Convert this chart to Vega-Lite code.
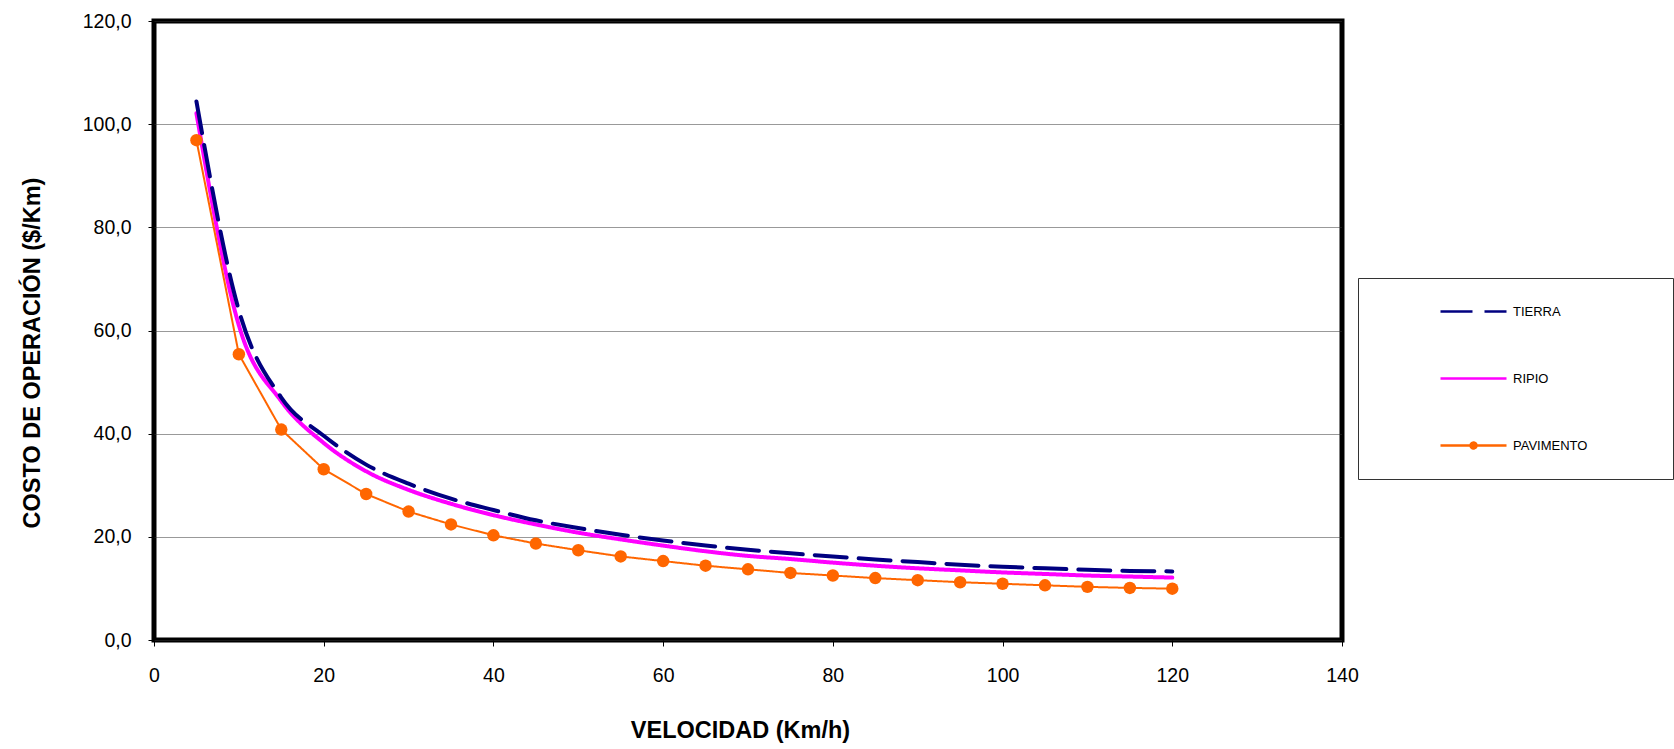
{
  "$schema": "https://vega.github.io/schema/vega-lite/v6.json",
  "width": 1188,
  "height": 619,
  "autosize": {"type": "none"},
  "padding": {"left": 154, "top": 21, "right": 332, "bottom": 109},
  "background": "white",
  "config": {
    "font": "Liberation Sans",
    "view": {"stroke": "black", "strokeWidth": 5},
    "axis": {"labelFont": "Liberation Sans", "titleFont": "Liberation Sans", "labelColor": "black", "titleColor": "black"}
  },
  "data": {
    "values": [
      {"v": 5, "serie": "RIPIO", "costo": 102.1},
      {"v": 10, "serie": "RIPIO", "costo": 61.0},
      {"v": 15, "serie": "RIPIO", "costo": 46.3},
      {"v": 20, "serie": "RIPIO", "costo": 38.2},
      {"v": 25, "serie": "RIPIO", "costo": 32.7},
      {"v": 30, "serie": "RIPIO", "costo": 29.1},
      {"v": 35, "serie": "RIPIO", "costo": 26.4},
      {"v": 40, "serie": "RIPIO", "costo": 24.2},
      {"v": 45, "serie": "RIPIO", "costo": 22.4},
      {"v": 50, "serie": "RIPIO", "costo": 20.8},
      {"v": 55, "serie": "RIPIO", "costo": 19.5},
      {"v": 60, "serie": "RIPIO", "costo": 18.3},
      {"v": 65, "serie": "RIPIO", "costo": 17.2},
      {"v": 70, "serie": "RIPIO", "costo": 16.3},
      {"v": 75, "serie": "RIPIO", "costo": 15.7},
      {"v": 80, "serie": "RIPIO", "costo": 15.0},
      {"v": 85, "serie": "RIPIO", "costo": 14.4},
      {"v": 90, "serie": "RIPIO", "costo": 13.9},
      {"v": 95, "serie": "RIPIO", "costo": 13.5},
      {"v": 100, "serie": "RIPIO", "costo": 13.1},
      {"v": 105, "serie": "RIPIO", "costo": 12.8},
      {"v": 110, "serie": "RIPIO", "costo": 12.5},
      {"v": 115, "serie": "RIPIO", "costo": 12.3},
      {"v": 120, "serie": "RIPIO", "costo": 12.1},
      {"v": 5, "serie": "TIERRA", "costo": 104.4},
      {"v": 10, "serie": "TIERRA", "costo": 63.9},
      {"v": 15, "serie": "TIERRA", "costo": 47.0},
      {"v": 20, "serie": "TIERRA", "costo": 39.6},
      {"v": 25, "serie": "TIERRA", "costo": 34.0},
      {"v": 30, "serie": "TIERRA", "costo": 30.3},
      {"v": 35, "serie": "TIERRA", "costo": 27.4},
      {"v": 40, "serie": "TIERRA", "costo": 25.2},
      {"v": 45, "serie": "TIERRA", "costo": 23.2},
      {"v": 50, "serie": "TIERRA", "costo": 21.7},
      {"v": 55, "serie": "TIERRA", "costo": 20.4},
      {"v": 60, "serie": "TIERRA", "costo": 19.3},
      {"v": 65, "serie": "TIERRA", "costo": 18.3},
      {"v": 70, "serie": "TIERRA", "costo": 17.5},
      {"v": 75, "serie": "TIERRA", "costo": 16.8},
      {"v": 80, "serie": "TIERRA", "costo": 16.2},
      {"v": 85, "serie": "TIERRA", "costo": 15.6},
      {"v": 90, "serie": "TIERRA", "costo": 15.1},
      {"v": 95, "serie": "TIERRA", "costo": 14.6},
      {"v": 100, "serie": "TIERRA", "costo": 14.2},
      {"v": 105, "serie": "TIERRA", "costo": 13.9},
      {"v": 110, "serie": "TIERRA", "costo": 13.6},
      {"v": 115, "serie": "TIERRA", "costo": 13.4},
      {"v": 120, "serie": "TIERRA", "costo": 13.3},
      {"v": 5, "serie": "PAVIMENTO", "costo": 96.9},
      {"v": 10, "serie": "PAVIMENTO", "costo": 55.4},
      {"v": 15, "serie": "PAVIMENTO", "costo": 40.8},
      {"v": 20, "serie": "PAVIMENTO", "costo": 33.1},
      {"v": 25, "serie": "PAVIMENTO", "costo": 28.3},
      {"v": 30, "serie": "PAVIMENTO", "costo": 24.9},
      {"v": 35, "serie": "PAVIMENTO", "costo": 22.4},
      {"v": 40, "serie": "PAVIMENTO", "costo": 20.3},
      {"v": 45, "serie": "PAVIMENTO", "costo": 18.7},
      {"v": 50, "serie": "PAVIMENTO", "costo": 17.4},
      {"v": 55, "serie": "PAVIMENTO", "costo": 16.2},
      {"v": 60, "serie": "PAVIMENTO", "costo": 15.3},
      {"v": 65, "serie": "PAVIMENTO", "costo": 14.4},
      {"v": 70, "serie": "PAVIMENTO", "costo": 13.7},
      {"v": 75, "serie": "PAVIMENTO", "costo": 13.0},
      {"v": 80, "serie": "PAVIMENTO", "costo": 12.5},
      {"v": 85, "serie": "PAVIMENTO", "costo": 12.0},
      {"v": 90, "serie": "PAVIMENTO", "costo": 11.6},
      {"v": 95, "serie": "PAVIMENTO", "costo": 11.2},
      {"v": 100, "serie": "PAVIMENTO", "costo": 10.9},
      {"v": 105, "serie": "PAVIMENTO", "costo": 10.6},
      {"v": 110, "serie": "PAVIMENTO", "costo": 10.3},
      {"v": 115, "serie": "PAVIMENTO", "costo": 10.1},
      {"v": 120, "serie": "PAVIMENTO", "costo": 9.95}
    ]
  },
  "encoding": {
    "x": {
      "field": "v", "type": "quantitative",
      "scale": {"domain": [0, 140], "nice": false, "zero": false},
      "axis": {
        "values": [0, 20, 40, 60, 80, 100, 120, 140],
        "grid": false, "domain": false,
        "tickSize": 6, "tickColor": "black", "tickWidth": 1,
        "labelFontSize": 19.5, "labelPadding": 20, "labelFlush": false, "labelOverlap": false,
        "title": "VELOCIDAD (Km/h)",
        "titleFontSize": 23.5, "titleFontWeight": "bold",
        "titleX": 586, "titleY": 97, "titleAlign": "center", "titleBaseline": "alphabetic"
      }
    },
    "y": {
      "field": "costo", "type": "quantitative",
      "scale": {"domain": [0, 120], "nice": false},
      "axis": {
        "values": [0, 20, 40, 60, 80, 100, 120],
        "grid": true, "gridColor": "#333333", "gridDash": [1, 1], "gridWidth": 1,
        "domain": false,
        "tickSize": 6, "tickColor": "black", "tickWidth": 1,
        "labelFontSize": 19.5, "labelPadding": 17, "labelOverlap": false, "labelFlush": false,
        "labelExpr": "replace(format(datum.value, '.1f'), '.', ',')",
        "title": "COSTO DE OPERACIÓN ($/Km)",
        "titleFontSize": 23.5, "titleFontWeight": "bold",
        "titleAngle": 270, "titleX": -114.7, "titleY": 331.5, "titleAlign": "center", "titleBaseline": "alphabetic"
      }
    }
  },
  "layer": [
    {
      "transform": [{"filter": "datum.serie !== 'PAVIMENTO'"}],
      "mark": {"type": "line", "interpolate": "monotone", "strokeCap": "round", "strokeWidth": 4},
      "encoding": {
        "color": {
          "field": "serie", "type": "nominal",
          "scale": {"domain": ["TIERRA", "RIPIO", "PAVIMENTO"], "range": ["#000080", "#FF00FF", "#FF6600"]},
          "legend": {
            "title": " ",
            "titleOrient": "right", "titlePadding": 86, "titleFontSize": 1,
            "orient": "none", "legendX": 1204, "legendY": 257,
            "padding": 0,
            "strokeColor": "#333333", "fillColor": "white",
            "symbolType": "stroke", "symbolSize": 4356, "symbolStrokeWidth": 2.5,
            "symbolOffset": 81, "labelOffset": 5,
            "clipHeight": 67, "rowPadding": 0,
            "labelFont": "Liberation Sans", "labelFontSize": 13, "labelColor": "black",
            "encode": {
              "symbols": {
                "update": {
                  "shape": {"signal": "datum.value === 'PAVIMENTO' ? 'M-1,0H1M0.09,0A0.09,0.09,0,1,1,-0.09,0A0.09,0.09,0,1,1,0.09,0Z' : 'stroke'"},
                  "fill": {"signal": "datum.value === 'PAVIMENTO' ? '#FF6600' : 'transparent'"},
                  "strokeDash": {"signal": "datum.value === 'TIERRA' ? [18, 6.7] : [1, 0]"},
                  "strokeWidth": {"value": 2.5}
                }
              }
            }
          }
        },
        "strokeDash": {
          "field": "serie", "type": "nominal",
          "scale": {"domain": ["TIERRA", "RIPIO", "PAVIMENTO"], "range": [[32, 12], [1, 0], [1, 0]]}
        }
      }
    },
    {
      "transform": [{"filter": "datum.serie === 'PAVIMENTO'"}],
      "mark": {"type": "line", "interpolate": "linear", "strokeWidth": 2},
      "encoding": {
        "color": {"field": "serie", "type": "nominal"},
        "strokeDash": {"field": "serie", "type": "nominal"}
      }
    },
    {
      "transform": [{"filter": "datum.serie === 'PAVIMENTO'"}],
      "mark": {"type": "point", "filled": true, "size": 155, "opacity": 1, "color": "#FF6600"},
      "encoding": {}
    }
  ]
}
